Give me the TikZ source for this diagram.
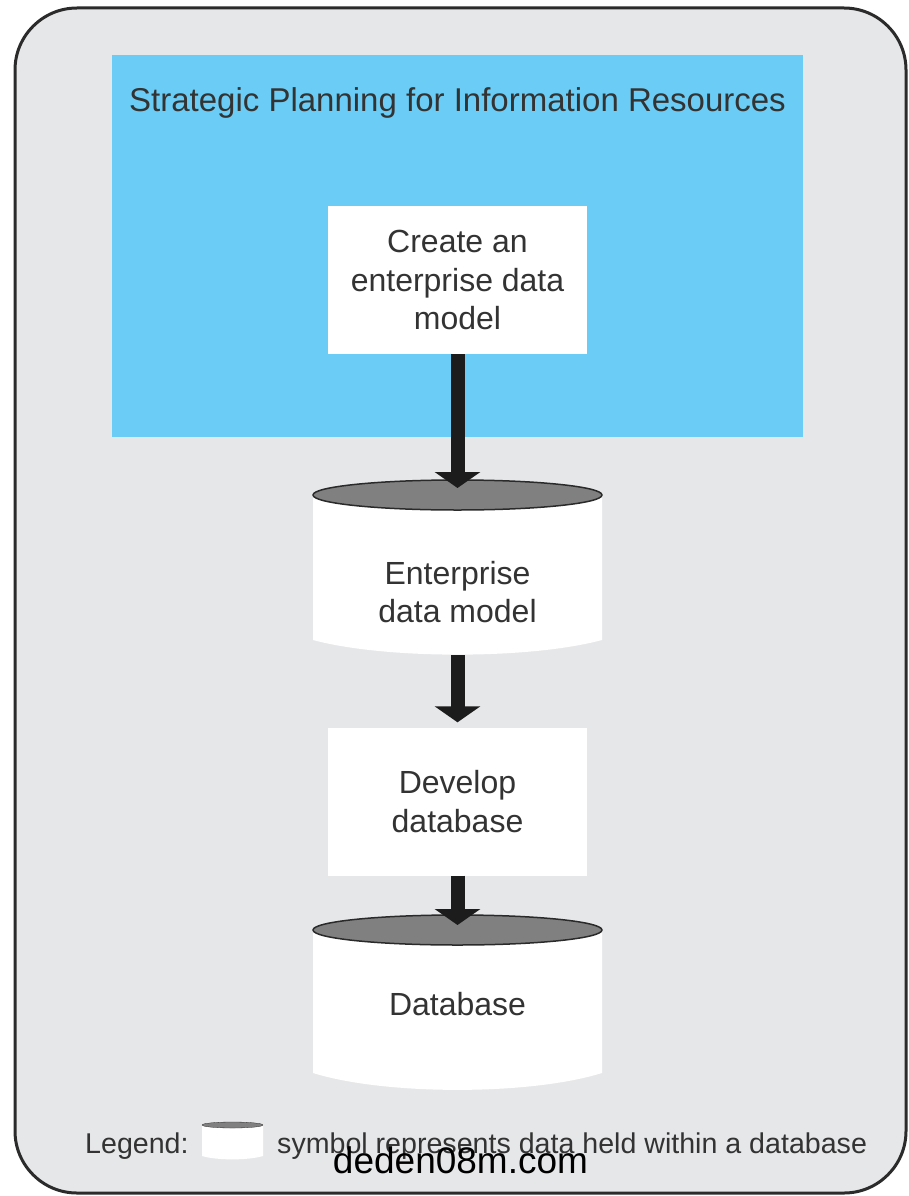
\documentclass[tikz,border=0pt]{standalone}
\usepackage{fontspec}
\setmainfont{Liberation Sans}
\usetikzlibrary{arrows.meta}
\definecolor{panelbg}{HTML}{E6E7E9}
\definecolor{panelline}{HTML}{2B2B2B}
\definecolor{planblue}{HTML}{6BCDF5}
\definecolor{txt}{HTML}{333333}
\definecolor{capgray}{HTML}{808080}
\definecolor{caprim}{HTML}{2A2A2A}
\definecolor{arrowc}{HTML}{1C1C1C}
\newcommand{\dbcyl}[7]{% xl, xr, ytop, ysides, ybottom, ry, rim width
  \fill[white] (#1,#3) -- (#1,#4) .. controls ({#1+0.25*(#2-#1)},{#5+0.5*(#5-#4)}) and ({#2-0.25*(#2-#1)},{#5+0.5*(#5-#4)}) .. (#2,#4) -- (#2,#3) -- cycle;
  \path[capdisk, line width=#7] ({(#1+#2)/2},#3) ellipse [x radius={(#2-#1)/2}, y radius=#6];
}
\tikzset{
  boxnode/.style={fill=white, minimum width=259pt, minimum height=148pt, inner sep=0pt, align=center, text=txt, font=\fontsize{32}{38.5}\selectfont},
  cyltext/.style={align=center, text=txt, font=\fontsize{32}{38.5}\selectfont, inner sep=0pt},
  flow/.style={line width=14pt, draw=arrowc, -{Triangle[width=45pt,length=16pt,fill=arrowc]}},
  capdisk/.style={fill=capgray, draw=caprim},
  legtext/.style={text=txt, font=\fontsize{28.6}{33}\selectfont, inner sep=0pt},
}
\begin{document}
\begin{tikzpicture}[x=1pt,y=-1pt]
\useasboundingbox (0,0) rectangle (909,1196);
\fill[white] (0,0) rectangle (909,1196);
% outer panel
\draw[fill=panelbg, draw=panelline, line width=3pt, rounded corners=62pt] (15,8) rectangle (906,1193);
% blue planning area
\fill[planblue] (112,55) rectangle (803,437);
\node[anchor=base, text=txt, font=\fontsize{33}{40}\selectfont, inner sep=0pt] (title) at (457.5,112) {Strategic Planning for Information Resources};
% process box 1
\node[boxnode] (box1) at (457.5,280) {Create an\\enterprise data\\model};
% cylinder 1
\dbcyl{313}{602}{495}{640}{653}{15}{1.5pt}
\coordinate (cyl1top) at (457.5,488);
\coordinate (cyl1bot) at (457.5,655);
\node[cyltext] (cyl1) at (457.5,592) {Enterprise\\data model};
% process box 2
\node[boxnode] (box2) at (457.5,801.5) {Develop\\database};
% cylinder 2
\dbcyl{313}{602}{930}{1073}{1088}{15}{1.5pt}
\coordinate (cyl2top) at (457.5,925);
\node[cyltext, anchor=base] (cyl2) at (457.5,1015) {Database};
% arrows
\draw[flow] (box1.south) -- (cyl1top);
\draw[flow, shorten >=5pt] (cyl1bot) -- (box2.north);
\draw[flow] (box2.south) -- (cyl2top);
% legend
\node[legtext, anchor=base west] (legend) at (85,1153) {Legend:};
\dbcyl{202}{263}{1125}{1156}{1159}{3}{0.3pt}
\node[legtext, anchor=base west] (legdesc) at (277,1153) {symbol represents data held within a database};
% watermark
\node[anchor=base, inner sep=0pt, text=black, font=\fontsize{37}{44}\selectfont] (wm) at (460.5,1173) {deden08m.com};
\end{tikzpicture}
\end{document}
